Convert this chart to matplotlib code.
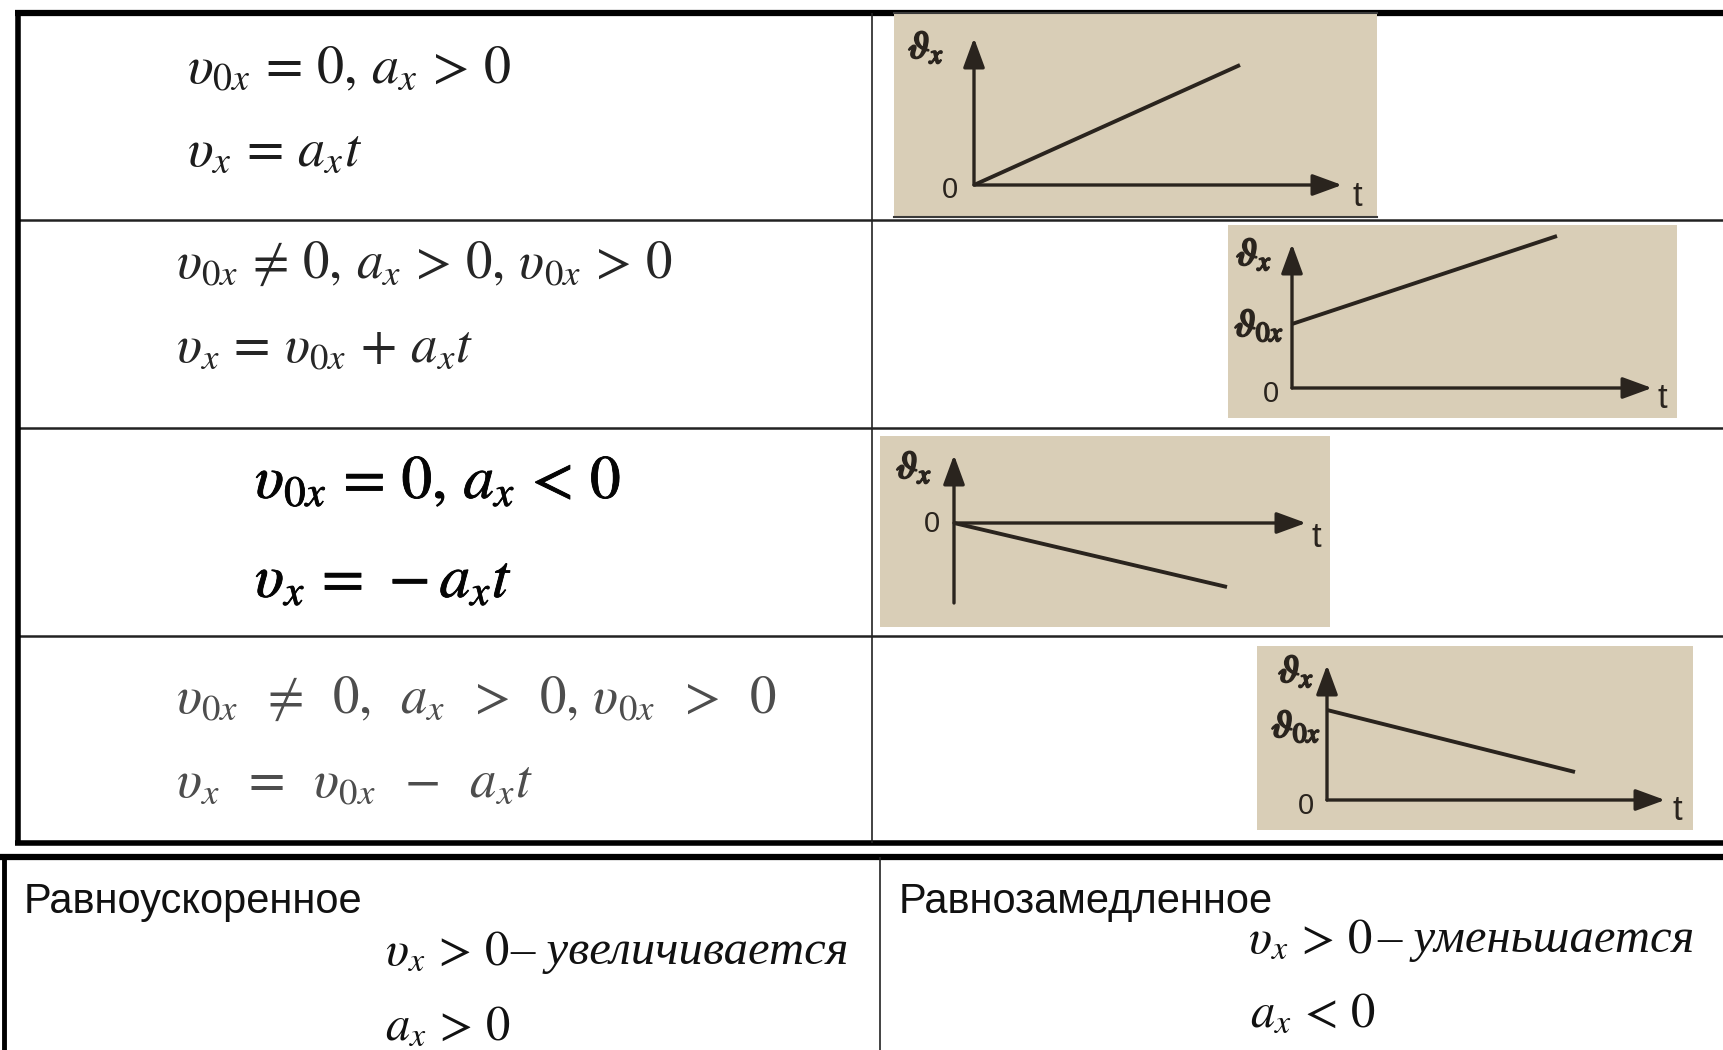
import matplotlib.pyplot as plt
import matplotlib.patheffects as pe

plt.rcParams['mathtext.fontset'] = 'stix'

# ==============================================
# table content: formulas of the left column (two lines per row)
formula_top = [r"$\upsilon_{0x}\,=\,0,\,a_x\,>\,0$",
               r"$\upsilon_{0x}\,\neq\,0,\,a_x\,>\,0,\,\upsilon_{0x}\,>\,0$",
               r"$\upsilon_{0x}\,=\,0,\,a_x\,<\,0$",
               r"$\upsilon_{0x}\;\;\neq\;\;0,\;\;a_{x}\;\;>\;\;0,\,\upsilon_{0x}\;\;>\;\;0$"]
formula_bottom = [r"$\upsilon_x\,=\,a_x t$",
                  r"$\upsilon_x\,=\,\upsilon_{0x}\,+\,a_x t$",
                  r"$\upsilon_x\,=\,-a_x t$",
                  r"$\upsilon_x\;\;=\;\;\upsilon_{0x}\;\;-\;\;a_x t$"]

# v(t) graphs of the right column (arbitrary units)
v_start = [0.0, 0.64, 0.0, 0.90]
v_end = [1.20, 1.52, -0.64, 0.28]
t_end = [2.66, 2.65, 2.73, 2.48]
has_v0_label = [False, True, False, True]

# lower table
kinds = ["Равноускоренное", "Равнозамедленное"]
kind_velocity = [r"$\upsilon_x\,>\,0$", r"$\upsilon_x\,>\,0$"]
kind_words = ["– увеличивается", "– уменьшается"]
kind_accel = [r"$a_x\,>\,0$", r"$a_x\,<\,0$"]

# ==============================================
# layout (pixels of the 1724x1050 picture)
W, H = 1724, 1050
row_lines = [13, 220, 428, 636, 843]
left_x, col_x = 18, 872

formula_x = [187, 176, 255, 176]
base_top = [83, 278, 498, 713]
base_bottom = [166, 362, 597, 797]
formula_size = [39, 38, 44, 38]
formula_color = ["#1c1c1c", "#262626", "#050505", "#4d4d4d"]

graph_box = [(894, 13, 1377, 217), (1228, 225, 1677, 418),
             (880, 436, 1330, 627), (1257, 646, 1693, 830)]
graph_origin = [(974, 185), (1292, 388), (954, 523), (1327, 800)]
px_per_unit = 100.0
y_arrow_top = [1.47, 1.44, 0.68, 1.35]
y_axis_bottom = [0, 0, -0.80, 0]
x_arrow_right = [3.68, 3.60, 3.52, 3.38]
lbl_vx = [(-0.48, 1.38), (-0.38, 1.34), (-0.40, 0.56), (-0.31, 1.29)]
lbl_v0 = [None, (-0.33, 0.63), None, (-0.31, 0.74)]
lbl_zero = [(-0.24, -0.05), (-0.21, -0.06), (-0.22, -0.01), (-0.21, -0.06)]
lbl_t = [(3.83, -0.11), (3.70, -0.10), (3.62, -0.14), (3.50, -0.11)]

ink = "#2a241e"
beige = "#d9ceb7"

fig = plt.figure(figsize=(W / 100, H / 100), dpi=100)
ax = fig.add_axes([0, 0, 1, 1])
ax.set_xlim(0, W)
ax.set_ylim(H, 0)
ax.axis("off")

# ---- upper table grid
ax.hlines(row_lines[0], left_x - 3, W, color="black", lw=4.5)
ax.hlines(row_lines[-1], left_x - 3, W, color="black", lw=4.0)
ax.hlines(row_lines[1:-1], left_x, W, color="#222222", lw=1.8)
ax.vlines(left_x, row_lines[0], row_lines[-1], color="black", lw=4.0)
ax.vlines(col_x, row_lines[0], row_lines[-1], color="#222222", lw=1.2)

for i in range(4):
    effects = [pe.withStroke(linewidth=0.6, foreground=formula_color[i])] if i == 2 else None
    for txt, yb in ((formula_top[i], base_top[i]), (formula_bottom[i], base_bottom[i])):
        ax.text(formula_x[i], yb, txt, fontsize=formula_size[i], color=formula_color[i],
                va="baseline", ha="left", path_effects=effects)

# ---- small v(t) graphs
for i in range(4):
    x0, y0, x1, y1 = graph_box[i]
    ox, oy = graph_origin[i]
    gax = fig.add_axes([x0 / W, 1 - y1 / H, (x1 - x0) / W, (y1 - y0) / H])
    gax.set_facecolor(beige)
    gax.set_xlim((x0 - ox) / px_per_unit, (x1 - ox) / px_per_unit)
    gax.set_ylim((oy - y1) / px_per_unit, (oy - y0) / px_per_unit)
    gax.set_xticks([])
    gax.set_yticks([])
    for s in gax.spines.values():
        s.set_visible(False)
    if i == 0:
        for side in ("top", "bottom"):
            gax.spines[side].set_visible(True)
            gax.spines[side].set_color("#3a3a3a")
            gax.spines[side].set_linewidth(1.5)

    arrow = dict(arrowstyle="-|>,head_length=0.6,head_width=0.22", mutation_scale=30,
                 lw=2.4, color=ink, shrinkA=0, shrinkB=0)
    gax.annotate("", xy=(0, y_arrow_top[i]), xytext=(0, y_axis_bottom[i]), arrowprops=arrow)
    gax.annotate("", xy=(x_arrow_right[i], 0), xytext=(0, 0), arrowprops=arrow)

    gax.plot([0, t_end[i]], [v_start[i], v_end[i]], color=ink, lw=2.8, solid_capstyle="butt")

    bold = [pe.withStroke(linewidth=1.4, foreground=ink)]
    gax.text(*lbl_vx[i], r"$\vartheta_{x}$", fontsize=28, color=ink,
             ha="center", va="center", path_effects=bold)
    if has_v0_label[i]:
        gax.text(*lbl_v0[i], r"$\vartheta_{0x}$", fontsize=28, color=ink,
                 ha="center", va="center", path_effects=bold)
    gax.text(*lbl_zero[i], "0", fontsize=21, color=ink, family="Liberation Sans",
             ha="center", va="center")
    gax.text(*lbl_t[i], "t", fontsize=25, color=ink, family="Liberation Sans",
             ha="center", va="center")

# ---- lower table
ax.hlines(857, 0, W, color="black", lw=4.5)
ax.vlines(4, 857, H, color="black", lw=3.5)
ax.vlines(880, 857, H, color="#222222", lw=1.2)

kind_x = [24, 899]
vel_x = [385, 1248]
vel_base = [964, 952]
word_x = [510, 1377]
acc_x = [385, 1250]
acc_base = [1039, 1026]
for j in range(2):
    ax.text(kind_x[j], 913, kinds[j], fontsize=30, family="Liberation Sans",
            color="#111111", va="baseline", ha="left")
    ax.text(vel_x[j], vel_base[j], kind_velocity[j], fontsize=35, color="#111111",
            va="baseline", ha="left")
    ax.text(word_x[j], vel_base[j], kind_words[j], fontsize=35, family="Liberation Serif",
            style="italic", color="#111111", va="baseline", ha="left")
    ax.text(acc_x[j], acc_base[j], kind_accel[j], fontsize=35, color="#111111",
            va="baseline", ha="left")

plt.savefig("out.png", dpi=100)
